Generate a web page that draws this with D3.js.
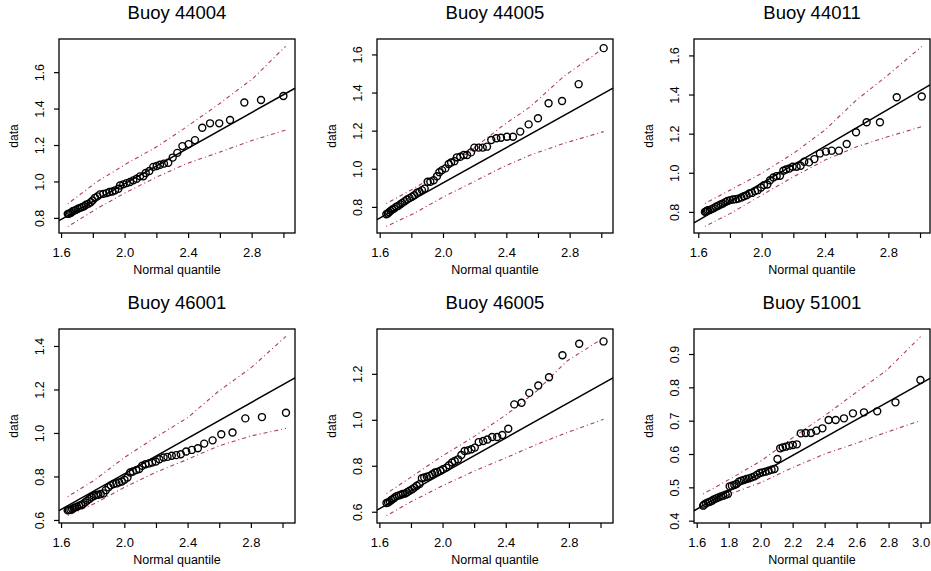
<!DOCTYPE html>
<html>
<head>
<meta charset="utf-8">
<script src="https://cdn.jsdelivr.net/npm/d3@7"></script>
<style>
  body { margin: 0; background: #fff; }
  svg { display: block; }
  text { font-family: 'Liberation Sans', Arial, Helvetica, sans-serif; fill: #000; }
</style>
</head>
<body>
<div id="chart"></div>
<script>
var titles = ['Buoy 44004', 'Buoy 44005', 'Buoy 44011', 'Buoy 46001', 'Buoy 46005', 'Buoy 51001']

var q44004 = [3.000, 2.859, 2.754, 2.664, 2.596, 2.538, 2.489, 2.443, 2.403, 2.364, 2.332, 2.303, 2.275, 2.248, 2.223, 2.202, 2.181, 2.156, 2.133, 2.118, 2.097, 2.076, 2.055, 2.034, 2.013, 1.992, 1.971, 1.961, 1.940, 1.923, 1.904, 1.887, 1.866, 1.845, 1.829, 1.814, 1.799, 1.787, 1.772, 1.757, 1.745, 1.732, 1.720, 1.707, 1.694, 1.684, 1.673, 1.665, 1.657, 1.648, 1.642]
var d44004 = [1.469, 1.447, 1.433, 1.337, 1.319, 1.319, 1.295, 1.227, 1.205, 1.194, 1.157, 1.131, 1.103, 1.098, 1.092, 1.085, 1.080, 1.057, 1.046, 1.028, 1.028, 1.015, 1.006, 0.997, 0.991, 0.984, 0.978, 0.960, 0.951, 0.945, 0.942, 0.936, 0.932, 0.929, 0.918, 0.910, 0.896, 0.886, 0.877, 0.872, 0.864, 0.859, 0.855, 0.850, 0.844, 0.840, 0.837, 0.829, 0.826, 0.822, 0.822]

var q44005 = [3.015, 2.857, 2.752, 2.667, 2.600, 2.541, 2.488, 2.442, 2.404, 2.366, 2.337, 2.305, 2.278, 2.251, 2.225, 2.198, 2.177, 2.152, 2.131, 2.109, 2.088, 2.072, 2.051, 2.036, 2.015, 1.994, 1.977, 1.962, 1.941, 1.920, 1.903, 1.884, 1.867, 1.851, 1.836, 1.819, 1.804, 1.789, 1.773, 1.758, 1.743, 1.731, 1.716, 1.703, 1.691, 1.680, 1.669, 1.659, 1.651, 1.642]
var d44005 = [1.633, 1.444, 1.356, 1.344, 1.265, 1.233, 1.195, 1.168, 1.168, 1.163, 1.160, 1.151, 1.116, 1.111, 1.111, 1.111, 1.086, 1.072, 1.072, 1.063, 1.060, 1.040, 1.033, 1.025, 1.002, 0.993, 0.982, 0.961, 0.940, 0.932, 0.932, 0.896, 0.888, 0.879, 0.874, 0.861, 0.853, 0.846, 0.839, 0.830, 0.821, 0.814, 0.805, 0.800, 0.791, 0.786, 0.779, 0.772, 0.765, 0.761]

var q44011 = [3.011, 2.853, 2.747, 2.663, 2.596, 2.537, 2.488, 2.442, 2.406, 2.368, 2.333, 2.299, 2.269, 2.246, 2.221, 2.196, 2.175, 2.154, 2.137, 2.116, 2.095, 2.074, 2.053, 2.036, 2.015, 1.996, 1.975, 1.958, 1.939, 1.922, 1.905, 1.888, 1.872, 1.853, 1.836, 1.819, 1.802, 1.785, 1.771, 1.756, 1.741, 1.726, 1.712, 1.697, 1.684, 1.672, 1.661, 1.655, 1.648, 1.642]
var d44011 = [1.390, 1.386, 1.258, 1.258, 1.207, 1.147, 1.113, 1.113, 1.108, 1.099, 1.070, 1.053, 1.056, 1.036, 1.031, 1.031, 1.022, 1.017, 1.010, 0.985, 0.983, 0.976, 0.962, 0.940, 0.937, 0.925, 0.911, 0.906, 0.897, 0.894, 0.885, 0.880, 0.874, 0.868, 0.865, 0.863, 0.860, 0.856, 0.850, 0.843, 0.838, 0.831, 0.826, 0.819, 0.814, 0.809, 0.809, 0.805, 0.802, 0.800]

var q46001 = [3.022, 2.870, 2.765, 2.684, 2.613, 2.558, 2.505, 2.465, 2.427, 2.391, 2.357, 2.328, 2.300, 2.273, 2.248, 2.222, 2.199, 2.176, 2.155, 2.134, 2.113, 2.094, 2.075, 2.054, 2.037, 2.020, 2.001, 1.984, 1.967, 1.950, 1.931, 1.914, 1.900, 1.883, 1.868, 1.851, 1.836, 1.822, 1.807, 1.792, 1.779, 1.765, 1.752, 1.739, 1.727, 1.714, 1.701, 1.691, 1.680, 1.670, 1.659, 1.649, 1.642]
var d46001 = [1.093, 1.073, 1.067, 1.002, 0.994, 0.966, 0.951, 0.930, 0.922, 0.915, 0.902, 0.898, 0.895, 0.890, 0.887, 0.879, 0.869, 0.864, 0.860, 0.856, 0.849, 0.834, 0.829, 0.823, 0.818, 0.795, 0.785, 0.777, 0.773, 0.768, 0.765, 0.759, 0.750, 0.737, 0.722, 0.719, 0.716, 0.715, 0.710, 0.704, 0.696, 0.689, 0.681, 0.673, 0.669, 0.666, 0.661, 0.658, 0.655, 0.650, 0.647, 0.646, 0.644]

var q46005 = [3.019, 2.865, 2.759, 2.674, 2.606, 2.549, 2.500, 2.454, 2.416, 2.378, 2.346, 2.314, 2.284, 2.257, 2.229, 2.204, 2.183, 2.161, 2.140, 2.119, 2.098, 2.077, 2.060, 2.041, 2.024, 2.003, 1.986, 1.967, 1.952, 1.935, 1.918, 1.901, 1.884, 1.869, 1.854, 1.837, 1.822, 1.808, 1.791, 1.776, 1.763, 1.748, 1.736, 1.723, 1.710, 1.697, 1.687, 1.676, 1.666, 1.655, 1.645]
var d46005 = [1.341, 1.331, 1.281, 1.185, 1.149, 1.117, 1.074, 1.067, 0.961, 0.934, 0.925, 0.925, 0.914, 0.908, 0.903, 0.879, 0.872, 0.867, 0.864, 0.847, 0.828, 0.821, 0.814, 0.802, 0.792, 0.785, 0.778, 0.773, 0.771, 0.763, 0.756, 0.752, 0.749, 0.746, 0.720, 0.713, 0.705, 0.698, 0.691, 0.685, 0.679, 0.677, 0.674, 0.671, 0.668, 0.662, 0.656, 0.651, 0.645, 0.640, 0.638]

var q51001 = [2.999, 2.843, 2.729, 2.646, 2.577, 2.521, 2.469, 2.425, 2.386, 2.348, 2.315, 2.282, 2.251, 2.226, 2.201, 2.178, 2.157, 2.138, 2.122, 2.105, 2.086, 2.068, 2.049, 2.030, 2.012, 1.995, 1.978, 1.962, 1.945, 1.928, 1.912, 1.895, 1.879, 1.864, 1.849, 1.835, 1.820, 1.806, 1.795, 1.781, 1.766, 1.752, 1.737, 1.723, 1.708, 1.696, 1.683, 1.671, 1.658, 1.646, 1.640]
var d51001 = [0.822, 0.755, 0.728, 0.725, 0.722, 0.707, 0.702, 0.702, 0.677, 0.670, 0.663, 0.663, 0.662, 0.629, 0.627, 0.625, 0.622, 0.620, 0.617, 0.585, 0.555, 0.553, 0.550, 0.547, 0.545, 0.543, 0.538, 0.533, 0.530, 0.527, 0.525, 0.522, 0.520, 0.517, 0.510, 0.507, 0.505, 0.503, 0.480, 0.478, 0.475, 0.473, 0.470, 0.467, 0.464, 0.460, 0.457, 0.455, 0.452, 0.448, 0.445]

// envelope knots: quantile, upper and lower bound
var envQ44004 = [1.642, 1.824, 2.013, 2.202, 2.391, 2.601, 2.810, 3.014]
var envUp44004 = [0.877, 0.997, 1.098, 1.190, 1.300, 1.429, 1.567, 1.742]
var envLo44004 = [0.752, 0.850, 0.942, 1.024, 1.098, 1.162, 1.227, 1.282]

var envQ44005 = [1.642, 1.815, 2.004, 2.194, 2.383, 2.552, 2.762, 3.015]
var envUp44005 = [0.818, 0.896, 0.993, 1.107, 1.230, 1.326, 1.484, 1.633]
var envLo44005 = [0.698, 0.765, 0.853, 0.932, 1.011, 1.072, 1.133, 1.195]

var envQ44011 = [1.642, 1.800, 2.000, 2.200, 2.400, 2.600, 2.800, 3.011]
var envUp44011 = [0.843, 0.911, 0.997, 1.099, 1.219, 1.373, 1.501, 1.646]
var envLo44011 = [0.726, 0.791, 0.885, 0.979, 1.065, 1.133, 1.185, 1.236]

var envQ46001 = [1.642, 1.805, 2.000, 2.195, 2.400, 2.596, 2.800, 3.022]
var envUp46001 = [0.707, 0.780, 0.887, 0.979, 1.070, 1.192, 1.299, 1.444]
var envLo46001 = [0.620, 0.673, 0.750, 0.818, 0.879, 0.940, 0.986, 1.021]

var envQ46005 = [1.645, 1.812, 2.000, 2.204, 2.405, 2.596, 2.786, 3.019]
var envUp46005 = [0.679, 0.756, 0.843, 0.929, 1.023, 1.125, 1.255, 1.356]
var envLo46005 = [0.583, 0.648, 0.713, 0.778, 0.836, 0.893, 0.944, 1.002]

var envQ51001 = [1.640, 1.808, 2.005, 2.203, 2.400, 2.598, 2.785, 3.000]
var envUp51001 = [0.480, 0.525, 0.580, 0.650, 0.715, 0.785, 0.850, 0.952]
var envLo51001 = [0.438, 0.480, 0.515, 0.560, 0.600, 0.632, 0.665, 0.700]

// reference line: intercept, slope
var fitCoef = [[0.009, 0.489], [0.000, 0.463], [-0.002, 0.474], [-0.006, 0.409], [-0.003, 0.385], [0.004, 0.269]]

// axis ranges
var xLims = [[1.587, 3.073], [1.583, 3.074], [1.573, 3.063], [1.587, 3.079], [1.585, 3.079], [1.583, 3.059]]
var yLims = [[0.717, 1.782], [0.663, 1.681], [0.692, 1.684], [0.586, 1.478], [0.551, 1.395], [0.393, 0.975]]

var xTicks = [1.6, 1.8, 2.0, 2.2, 2.4, 2.6, 2.8, 3.0]
var xLabelsSparse = ['1.6', '', '2.0', '', '2.4', '', '2.8', '']
var xLabelsFull = ['1.6', '1.8', '2.0', '2.2', '2.4', '2.6', '2.8', '3.0']
var yTicks = [
  [0.8, 1.0, 1.2, 1.4, 1.6],
  [0.8, 1.0, 1.2, 1.4, 1.6],
  [0.8, 1.0, 1.2, 1.4, 1.6],
  [0.6, 0.8, 1.0, 1.2, 1.4],
  [0.6, 0.8, 1.0, 1.2],
  [0.4, 0.5, 0.6, 0.7, 0.8, 0.9]
]

var panels = [
  { q: q44004, d: d44004, eq: envQ44004, up: envUp44004, lo: envLo44004, xl: xLabelsSparse },
  { q: q44005, d: d44005, eq: envQ44005, up: envUp44005, lo: envLo44005, xl: xLabelsSparse },
  { q: q44011, d: d44011, eq: envQ44011, up: envUp44011, lo: envLo44011, xl: xLabelsSparse },
  { q: q46001, d: d46001, eq: envQ46001, up: envUp46001, lo: envLo46001, xl: xLabelsSparse },
  { q: q46005, d: d46005, eq: envQ46005, up: envUp46005, lo: envLo46005, xl: xLabelsSparse },
  { q: q51001, d: d51001, eq: envQ51001, up: envUp51001, lo: envLo51001, xl: xLabelsFull }
]

var w = 931
var h = 571
var boxLeft = [59, 377, 694]
var boxTop = [39, 329]
var boxW = 236
var boxH = 194
var envColor = '#b0386e'

var svg = d3.select('#chart')
  .append('svg')
  .attr('width', w)
  .attr('height', h)

svg.append('rect').attr('width', w).attr('height', h).attr('fill', '#fff')

panels.forEach(function (p, i) {
  var left = boxLeft[i % 3]
  var top = boxTop[Math.floor(i / 3)]

  var x = d3.scaleLinear().domain(xLims[i]).range([0, boxW])
  var y = d3.scaleLinear().domain(yLims[i]).range([boxH, 0])

  var g = svg.append('g').attr('transform', 'translate(' + left + ',' + top + ')')

  // envelope
  var env = d3.line()
    .x(function (d, k) { return x(p.eq[k]) })
    .y(function (d) { return y(d) })
  ;[p.up, p.lo].forEach(function (band) {
    g.append('path')
      .attr('d', env(band))
      .attr('fill', 'none')
      .attr('stroke', envColor)
      .attr('stroke-width', 1.1)
      .attr('stroke-dasharray', '1,3,4,3')
  })

  // reference line across the box
  var a = fitCoef[i][0]
  var b = fitCoef[i][1]
  g.append('line')
    .attr('x1', x(xLims[i][0])).attr('y1', y(a + b * xLims[i][0]))
    .attr('x2', x(xLims[i][1])).attr('y2', y(a + b * xLims[i][1]))
    .attr('stroke', '#000')
    .attr('stroke-width', 1.5)

  // points
  g.selectAll('circle')
    .data(p.q)
    .enter()
    .append('circle')
    .attr('cx', function (d) { return x(d) })
    .attr('cy', function (d, k) { return y(p.d[k]) })
    .attr('r', 3.5)
    .attr('fill', 'none')
    .attr('stroke', '#000')
    .attr('stroke-width', 1.4)

  // box
  g.append('rect')
    .attr('width', boxW).attr('height', boxH)
    .attr('fill', 'none').attr('stroke', '#000').attr('stroke-width', 1.3)

  // x axis
  var xa = g.append('g')
    .attr('transform', 'translate(0,' + boxH + ')')
    .call(d3.axisBottom(x).tickValues(xTicks).tickSize(5).tickSizeOuter(0)
      .tickFormat(function (d, k) { return p.xl[k] }))
  xa.select('.domain').remove()
  xa.selectAll('line').attr('stroke', '#000').attr('stroke-width', 1.2)
  xa.selectAll('text')
    .attr('y', 24).attr('dy', null)
    .style('font-size', '13px')
    .style('font-family', "'Liberation Sans', Arial, sans-serif")

  // y axis
  var ya = g.append('g')
    .call(d3.axisLeft(y).tickValues(yTicks[i]).tickSize(5).tickSizeOuter(0)
      .tickFormat(d3.format('.1f')))
  ya.select('.domain').remove()
  ya.selectAll('line').attr('stroke', '#000').attr('stroke-width', 1.2)
  ya.selectAll('text')
    .attr('transform', 'rotate(-90)')
    .attr('x', 0).attr('y', -15).attr('dy', null)
    .attr('text-anchor', 'middle')
    .style('font-size', '12.5px')
    .style('font-family', "'Liberation Sans', Arial, sans-serif")

  // titles
  g.append('text')
    .attr('x', boxW / 2).attr('y', -20)
    .attr('text-anchor', 'middle')
    .style('font-size', '18.5px')
    .text(titles[i])

  g.append('text')
    .attr('x', boxW / 2).attr('y', boxH + 41)
    .attr('text-anchor', 'middle')
    .style('font-size', '12.5px')
    .text('Normal quantile')

  g.append('text')
    .attr('transform', 'translate(-41,' + (boxH / 2) + ') rotate(-90)')
    .attr('text-anchor', 'middle')
    .style('font-size', '12px')
    .text('data')
})
</script>
</body>
</html>
